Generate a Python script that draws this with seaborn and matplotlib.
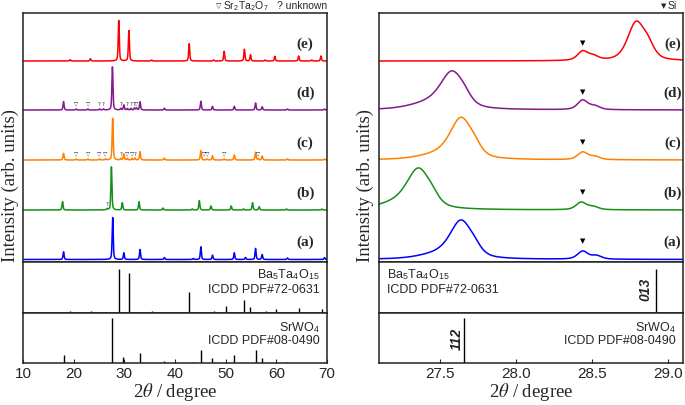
import numpy as np
import pandas as pd
import matplotlib.pyplot as plt
import seaborn as sns

# ---------------- data ----------------
# wide scan 10-70 deg: peak centres (deg) and heights (intensity, arb.)
a_pos = [18.0, 27.7, 29.9, 33.1, 37.9, 43.6, 45.1, 47.4, 51.7, 53.9, 55.9, 57.2, 62.2, 69.5]
a_hgt = [7.7, 42.0, 6.7, 10.0, 2.0, 1.0, 12.7, 4.3, 6.7, 2.0, 11.0, 5.0, 1.5, 2.0]
b_pos = [17.8, 27.45, 29.6, 32.9, 37.6, 43.4, 44.8, 47.1, 51.1, 53.5, 55.3, 56.6, 62.0, 69.0, 26.6]
b_hgt = [8.3, 43.3, 7.3, 8.3, 2.0, 1.0, 9.3, 4.0, 4.0, 1.0, 7.3, 3.3, 1.0, 1.0, 1.2]
c_pos = [18.0, 27.7, 29.9, 33.1, 37.9, 45.1, 47.4, 51.7, 55.9, 57.2, 62.2, 69.5,
         20.5, 22.8, 25.1, 26.3, 29.3, 30.6, 31.5, 32.1, 46.3, 49.7, 56.4]
c_hgt = [6.7, 41.7, 6.0, 8.3, 2.0, 9.3, 4.3, 5.0, 7.7, 4.0, 1.0, 1.0,
         1.0, 1.0, 1.0, 1.0, 1.5, 1.5, 1.5, 2.0, 1.0, 1.0, 1.0]
d_pos = [18.0, 27.65, 29.9, 33.1, 37.9, 45.1, 47.4, 51.7, 55.9, 57.2, 62.2, 69.5,
         20.5, 22.8, 25.1, 25.9, 29.3, 30.6, 31.3, 32.0, 32.4]
d_hgt = [8.3, 43.3, 5.0, 8.3, 1.7, 8.7, 3.7, 3.7, 7.0, 3.3, 1.0, 1.0,
         1.0, 1.0, 1.0, 1.0, 1.5, 1.5, 1.5, 2.0, 2.0]
e_pos = [19.3, 23.3, 28.9, 30.9, 35.4, 42.8, 47.6, 49.7, 53.7, 54.9, 57.8, 59.7, 64.4, 67.0, 68.8]
e_hgt = [1.3, 2.3, 40.5, 30.5, 1.0, 17.3, 1.0, 9.7, 11.7, 6.3, 1.0, 4.7, 5.0, 1.0, 5.0]

# narrow scan 27.1-29.1 deg: centre, height, FWHM
a_z_pos = [27.64, 27.50, 27.73, 28.44, 28.53]
a_z_hgt = [36.0, 5.0, 5.0, 8.0, 3.5]
a_z_fw = [0.17, 0.30, 0.10, 0.08, 0.08]
b_z_pos = [27.36, 27.22, 27.45, 28.43, 28.51]
b_z_hgt = [38.0, 6.0, 5.0, 7.5, 3.0]
b_z_fw = [0.18, 0.30, 0.10, 0.08, 0.08]
c_z_pos = [27.64, 27.50, 27.73, 28.44, 28.52]
c_z_hgt = [39.0, 5.0, 6.0, 7.5, 3.0]
c_z_fw = [0.17, 0.30, 0.10, 0.08, 0.08]
d_z_pos = [27.58, 27.43, 27.66, 28.44, 28.52]
d_z_hgt = [35.0, 6.0, 5.0, 9.5, 3.5]
d_z_fw = [0.18, 0.30, 0.10, 0.08, 0.08]
e_z_pos = [28.44, 28.51, 28.79, 28.87]
e_z_hgt = [9.0, 4.0, 37.0, 12.0]
e_z_fw = [0.08, 0.08, 0.13, 0.10]

# reference patterns (relative stick heights, %)
ba_pos = [19.3, 23.4, 28.92, 30.9, 35.4, 42.8, 47.6, 50.1, 53.7, 54.9, 58.0, 59.9, 64.4, 67.0, 69.0]
ba_hgt = [3, 4, 87, 79, 3, 42, 3, 13, 26, 12, 3, 8, 10, 2, 8]
sr_pos = [18.0, 27.66, 29.8, 33.1, 37.9, 43.6, 45.1, 47.4, 51.7, 53.9, 55.9, 57.2, 62.2, 69.5]
sr_hgt = [15.5, 90, 12, 21, 5, 2, 26, 11, 15.5, 2, 26, 11, 2, 2]

# impurity markers (deg, symbol)
b_marks = [(26.6, '?')]
c_marks = [(20.5, '▽'), (22.8, '▽'), (25.1, '▽'), (26.3, '▽'), (29.3, '?'), (30.6, '▽'),
           (31.5, '▽'), (32.1, '?'), (46.2, '▽▽'), (49.7, '▽'), (56.4, '▽')]
d_marks = [(20.5, '▽'), (22.8, '▽'), (25.1, '?'), (25.9, '?'), (29.3, '?'), (30.6, '?'),
           (31.3, '?'), (32.0, '?'), (32.4, '▽')]

labels = ['(a)', '(b)', '(c)', '(d)', '(e)']
colors = ['#0000ff', '#168f16', '#ff8000', '#851a8f', '#ff0000']
offsets = [2.5, 52, 102, 152, 201]
WIDE_FWHM = 0.25


def pattern(x, pos, hgt, fwhm, eta=0.5):
    y = np.zeros_like(x)
    for p, h, w in zip(pos, hgt, fwhm):
        d = (x - p) / (w / 2)
        y += h * (eta / (1 + d ** 2) + (1 - eta) * np.exp(-np.log(2) * d ** 2))
    return y


sns.set_style('ticks')
plt.rcParams['font.family'] = ['Liberation Sans', 'DejaVu Sans']
plt.rcParams['mathtext.fontset'] = 'stix'

fig = plt.figure(figsize=(6.85, 4.05), dpi=100)


def px_axes(x0, x1, y0, y1):
    return fig.add_axes([x0 / 685, 1 - y1 / 405, (x1 - x0) / 685, (y1 - y0) / 405])


def frame(ax):
    for s in ax.spines.values():
        s.set_color('#222222')
        s.set_linewidth(1.1)
    ax.set_yticks([])


wide = [(a_pos, a_hgt), (b_pos, b_hgt), (c_pos, c_hgt), (d_pos, d_hgt), (e_pos, e_hgt)]
narrow = [(a_z_pos, a_z_hgt, a_z_fw), (b_z_pos, b_z_hgt, b_z_fw), (c_z_pos, c_z_hgt, c_z_fw),
          (d_z_pos, d_z_hgt, d_z_fw), (e_z_pos, e_z_hgt, e_z_fw)]

panels = [(23, 327, (10, 70), np.arange(10, 71, 10), [f'{v}' for v in range(10, 71, 10)]),
          (379, 683, (27.1, 29.1), [27.5, 28.0, 28.5, 29.0], ['27.5', '28.0', '28.5', '29.0'])]

for k, (x0, x1, xlim, ticks, ticklabels) in enumerate(panels):
    ax = px_axes(x0, x1, 13, 262)
    ax_ba = px_axes(x0, x1, 262, 313)
    ax_sr = px_axes(x0, x1, 313, 363)
    x = np.linspace(xlim[0], xlim[1], 3001 if k == 0 else 801)

    for i in range(5):
        if k == 0:
            pos, hgt = wide[i]
            y = pattern(x, pos, hgt, [WIDE_FWHM] * len(pos)) + offsets[i]
        else:
            pos, hgt, fw = narrow[i]
            y = pattern(x, pos, hgt, fw) + offsets[i]
        df = pd.DataFrame({'two_theta': x, 'intensity': y})
        sns.lineplot(data=df, x='two_theta', y='intensity', ax=ax, color=colors[i],
                     lw=1.1, estimator=None, sort=False)
        lx = 65.7 if k == 0 else 29.03
        ax.text(lx, offsets[i] + 17, labels[i], ha='center', va='center',
                fontsize=11, fontweight='bold', family='Liberation Serif')
        if k == 1:
            ax.text(28.44, offsets[i] + 18, '▼', ha='center', va='center',
                    fontsize=5, family='DejaVu Sans', color='black')

    if k == 0:
        for i, marks in [(1, b_marks), (2, c_marks), (3, d_marks)]:
            for p, sym in marks:
                ax.text(p, offsets[i] + 5, sym, ha='center', va='center',
                        fontsize=4, family='DejaVu Sans', color='#333333')

    ax.set_xlim(*xlim)
    ax.set_ylim(0, 249)
    ax.set_xticks([])
    ax.set_xlabel('')
    ax.set_ylabel('')
    frame(ax)

    ax_ba.vlines(ba_pos, 0, ba_hgt, color='black', lw=1.0)
    ax_sr.vlines(sr_pos, 0, sr_hgt, color='black', lw=1.0)
    for a in (ax_ba, ax_sr):
        a.set_xlim(*xlim)
        a.set_ylim(0, 100)
        frame(a)
    ax_ba.set_xticks([])
    ax_sr.set_xticks(ticks)
    ax_sr.set_xticklabels(ticklabels, fontsize=11)
    ax_sr.tick_params(axis='x', direction='in', length=3, pad=3)
    ax_sr.set_xlabel(r'2$\theta$ / degree', family='Liberation Serif', fontsize=13.5, labelpad=0)

    ba_txt = r'Ba$_{\mathregular{5}}$Ta$_{\mathregular{4}}$O$_{\mathregular{15}}$'
    sr_txt = r'SrWO$_{\mathregular{4}}$'
    if k == 0:
        ax_ba.text(0.975, 0.745, ba_txt, transform=ax_ba.transAxes, ha='right', va='center', fontsize=9)
        ax_ba.text(0.975, 0.45, 'ICDD PDF#72-0631', transform=ax_ba.transAxes, ha='right', va='center', fontsize=9)
    else:
        ax_ba.text(0.025, 0.745, ba_txt, transform=ax_ba.transAxes, ha='left', va='center', fontsize=9)
        ax_ba.text(0.025, 0.45, 'ICDD PDF#72-0631', transform=ax_ba.transAxes, ha='left', va='center', fontsize=9)
        ax_ba.text(28.85, 47, '013', rotation=90, ha='center', va='center',
                   fontsize=10, fontweight='bold', fontstyle='italic')
        ax_sr.text(27.61, 48, '112', rotation=90, ha='center', va='center',
                   fontsize=10, fontweight='bold', fontstyle='italic')
    ax_sr.text(0.975, 0.70, sr_txt, transform=ax_sr.transAxes, ha='right', va='center', fontsize=9)
    ax_sr.text(0.975, 0.43, 'ICDD PDF#08-0490', transform=ax_sr.transAxes, ha='right', va='center', fontsize=9)

# y labels
fig.text(10 / 685, 1 - 185 / 405, 'Intensity (arb. units)', rotation=90, ha='center', va='center',
         family='Liberation Serif', fontsize=13.5)
fig.text(365 / 685, 1 - 185 / 405, 'Intensity (arb. units)', rotation=90, ha='center', va='center',
         family='Liberation Serif', fontsize=13.5)

# phase keys above the frames
fig.text(219 / 685, 1 - 6 / 405, '▽', ha='center', va='center', fontsize=5, family='DejaVu Sans')
fig.text(223 / 685, 1 - 6.5 / 405, r'Sr$_{\mathregular{2}}$Ta$_{\mathregular{2}}$O$_{\mathregular{7}}$',
         ha='left', va='center', fontsize=7.5)
fig.text(277 / 685, 1 - 6 / 405, '? unknown', ha='left', va='center', fontsize=7.5)
fig.text(664 / 685, 1 - 6 / 405, '▼', ha='center', va='center', fontsize=5, family='DejaVu Sans')
fig.text(668 / 685, 1 - 6 / 405, 'Si', ha='left', va='center', fontsize=7.5)

fig.savefig('out.png', dpi=100)
